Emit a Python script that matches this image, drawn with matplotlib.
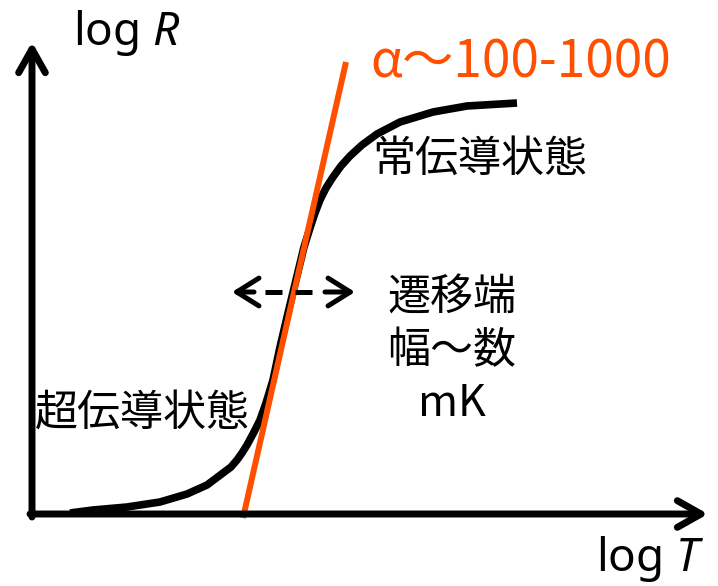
import matplotlib
matplotlib.use("Agg")
import matplotlib.pyplot as plt

plt.rcParams['font.family'] = ['Noto Sans CJK JP', 'DejaVu Sans']
plt.rcParams['mathtext.fontset'] = 'custom'
plt.rcParams['mathtext.rm'] = 'Noto Sans'
plt.rcParams['mathtext.it'] = 'Noto Sans:italic'

# R-T curve (pixel coords, y grows downward)
curve_x = [70, 93, 127, 160, 187, 207, 223, 231, 237, 242, 247, 254, 260, 266,
           273, 280, 288, 296, 304, 310, 315, 320, 326, 333, 341, 350, 362,
           377, 400, 433, 467, 517]
curve_y = [513, 510, 507, 502, 494, 485, 473, 467, 460, 453, 445, 432, 420, 403,
           380, 347, 313, 280, 247, 228, 213, 200, 188, 177, 166, 156, 145,
           134, 122, 112, 106, 103]

# tangent line at the transition
alpha_x = [243, 346]
alpha_y = [518, 62]

# transition width arrow: left head, dashes, right head
width_y = 292
left_head = (232, 254)
dash_span = (265, 312)
right_head = (355, 325)

alpha_label = "α〜100-1000"
normal_label = "常伝導状態"
super_label = "超伝導状態"
width_lines = ["遷移端", "幅〜数", "mK"]
width_line_y = [299, 351, 404]
ylabel = "log $R$"
xlabel = "log $T$"

fig = plt.figure(figsize=(7.18, 5.86), dpi=100)
ax = fig.add_axes([0, 0, 1, 1])
ax.set_xlim(0, 718)
ax.set_ylim(586, 0)
ax.axis("off")

head = "->,head_length=0.85,head_width=0.48"

# axes arrows
ax.annotate("", xy=(32, 42), xytext=(32, 517),
            arrowprops=dict(arrowstyle=head, lw=5, color="black",
                            mutation_scale=20, shrinkA=0, shrinkB=0))
ax.annotate("", xy=(708, 514), xytext=(30, 514),
            arrowprops=dict(arrowstyle=head, lw=5, color="black",
                            mutation_scale=20, shrinkA=0, shrinkB=0))

# curve and tangent
ax.plot(curve_x, curve_y, color="black", lw=5.5, solid_capstyle="butt",
        solid_joinstyle="round")
ax.plot(alpha_x, alpha_y, color="#ff4f00", lw=4.3, solid_capstyle="butt")

# dashed double arrow
ax.plot(dash_span, [width_y, width_y], color="black", lw=3.6,
        dashes=(3.4, 2.6), dash_capstyle="butt")
for tip, tail in [left_head, right_head]:
    ax.annotate("", xy=(tip, width_y), xytext=(tail, width_y),
                arrowprops=dict(arrowstyle="->,head_length=0.8,head_width=0.5",
                                lw=3.6, color="black", mutation_scale=20,
                                shrinkA=0, shrinkB=0))

ax.text(127, 45, ylabel, fontsize=33, family="Noto Sans",
        ha="center", va="baseline")
ax.text(650, 571, xlabel, fontsize=33, family="Noto Sans",
        ha="center", va="baseline")
ax.text(521, 78, alpha_label, fontsize=37, ha="center", va="baseline",
        color="#ff4f00")
ax.text(480, 160, normal_label, fontsize=31, ha="center", va="center")
ax.text(142, 414, super_label, fontsize=31, ha="center", va="center")
for s, y in zip(width_lines, width_line_y):
    ax.text(452, y, s, fontsize=31, ha="center", va="center")

fig.savefig("out.png", dpi=100)
